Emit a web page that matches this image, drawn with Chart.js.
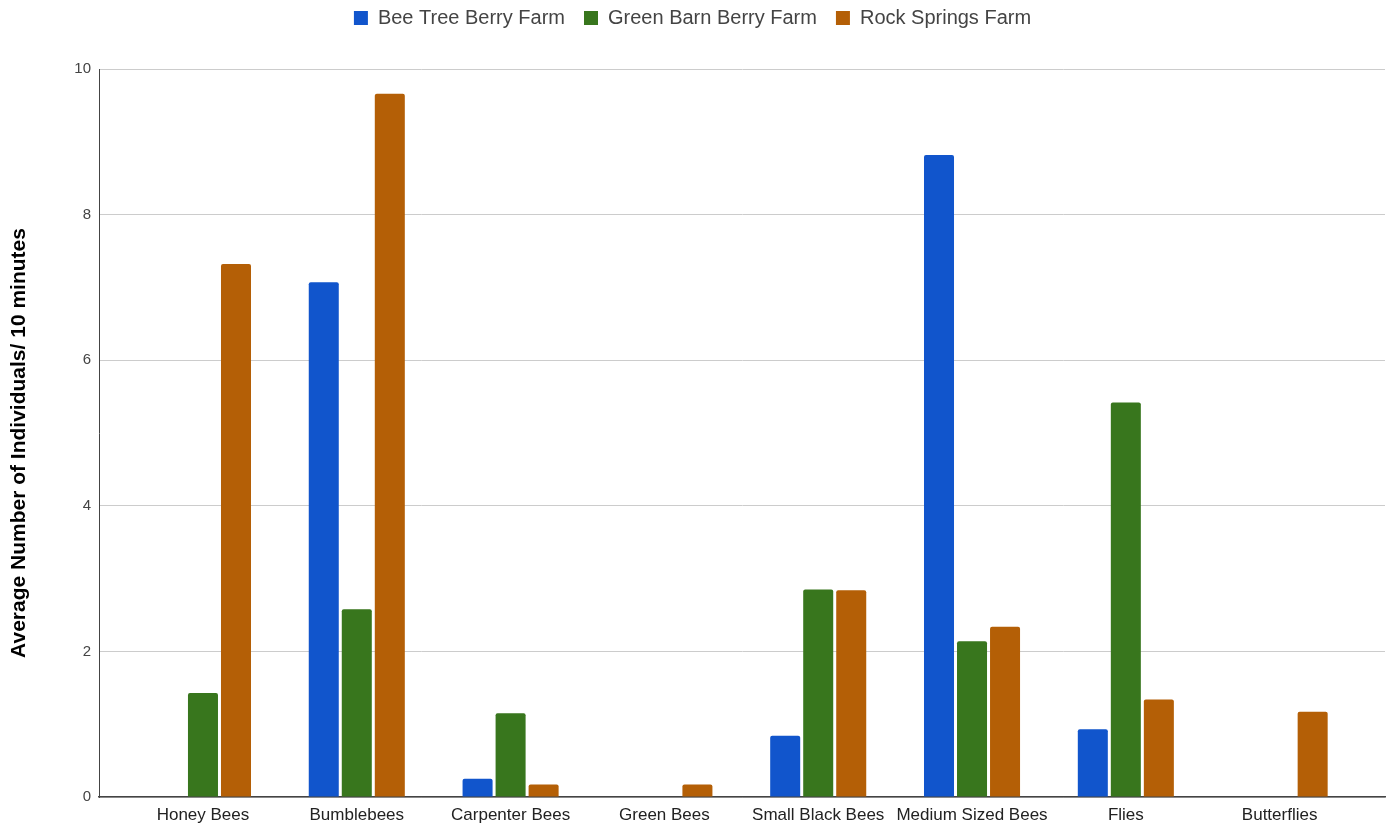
<!DOCTYPE html>
<html>
<head>
<meta charset="utf-8">
<script src="https://cdn.jsdelivr.net/npm/chart.js@4"></script>
<style>
  html, body { margin: 0; padding: 0; background: #ffffff; }
  #wrap { width: 1392px; height: 828px; }
</style>
</head>
<body>
<div id="wrap"><canvas id="chart" width="1392" height="828"></canvas></div>
<script>
// Pollinator survey: average visitors per 10-minute observation
const categories = ['Honey Bees', 'Bumblebees', 'Carpenter Bees', 'Green Bees',
  'Small Black Bees', 'Medium Sized Bees', 'Flies', 'Butterflies'];
const seriesNames = ['Bee Tree Berry Farm', 'Green Barn Berry Farm', 'Rock Springs Farm'];
const beeTree     = [0,    7.07, 0.25, 0,    0.84, 8.82, 0.93, 0];
const greenBarn   = [1.43, 2.58, 1.15, 0,    2.85, 2.14, 5.42, 0];
const rockSprings = [7.32, 9.66, 0.17, 0.17, 2.84, 2.34, 1.34, 1.17];
const yTicks = [0, 2, 4, 6, 8, 10];
const yTitleText = 'Average Number of Individuals/ 10 minutes';

const colors = ['#1155cc', '#38761d', '#b45f06'];
const FONT = '"Liberation Sans", Arial, sans-serif';

function toPoints(values) {
  return values.map((v, i) => ({ x: i, y: v }));
}

const datasets = [beeTree, greenBarn, rockSprings].map((vals, k) => ({
  label: seriesNames[k],
  data: toPoints(vals),
  backgroundColor: colors[k],
  borderWidth: 0,
  borderRadius: { topLeft: 2, topRight: 2, bottomLeft: 0, bottomRight: 0 },
  borderSkipped: 'bottom',
  categoryPercentage: 0.644,
  barPercentage: 0.909
}));

// legend box is given a fixed height so the plot starts at the right place
const legendHeight = {
  id: 'legendHeight',
  afterInit(chart) {
    const lg = chart.legend;
    if (!lg) return;
    const fit = lg.fit;
    lg.fit = function () {
      fit.call(this);
      this.height = 80;
    };
  }
};

// vertical axis title, drawn a little below the plot's middle
const yAxisTitle = {
  id: 'yAxisTitle',
  afterDraw(chart) {
    const { ctx, chartArea } = chart;
    ctx.save();
    ctx.translate(19, (chartArea.top + chartArea.bottom) / 2 + 10);
    ctx.rotate(-Math.PI / 2);
    ctx.font = 'bold 21px ' + FONT;
    ctx.fillStyle = '#000000';
    ctx.textAlign = 'center';
    ctx.textBaseline = 'middle';
    ctx.fillText(yTitleText, 0, 0);
    ctx.restore();
  }
};

new Chart(document.getElementById('chart'), {
  type: 'bar',
  data: { datasets },
  plugins: [legendHeight, yAxisTitle],
  options: {
    responsive: false,
    animation: false,
    layout: { padding: { top: -11, right: 7, left: 0, bottom: 0 } },
    plugins: {
      tooltip: { enabled: false },
      legend: {
        position: 'top',
        align: 'center',
        labels: {
          boxWidth: 14,
          boxHeight: 14,
          padding: 19,
          color: '#444444',
          font: { family: FONT, size: 20 }
        }
      }
    },
    scales: {
      x: {
        type: 'linear',
        min: -0.676,
        max: 7.685,
        offset: false,
        grid: { display: false, drawTicks: false },
        border: { display: true, color: '#444444', width: 1.5 },
        afterFit(scale) { scale.height = 31; },
        afterBuildTicks(scale) {
          scale.ticks = categories.map((_, i) => ({ value: i }));
        },
        ticks: {
          autoSkip: false,
          maxRotation: 0,
          minRotation: 0,
          padding: 8,
          color: '#222222',
          font: { family: FONT, size: 17 },
          callback: (v) => categories[v]
        }
      },
      y: {
        min: 0,
        max: 10,
        afterFit(scale) { scale.width = 99; },
        afterBuildTicks(scale) {
          scale.ticks = yTicks.map(v => ({ value: v }));
        },
        grid: { color: '#cccccc', lineWidth: 1, drawTicks: false },
        border: { display: true, color: '#444444', width: 1 },
        ticks: {
          padding: 8,
          color: '#444444',
          font: { family: FONT, size: 15 }
        },
        title: { display: false }
      }
    }
  }
});
</script>
</body>
</html>
